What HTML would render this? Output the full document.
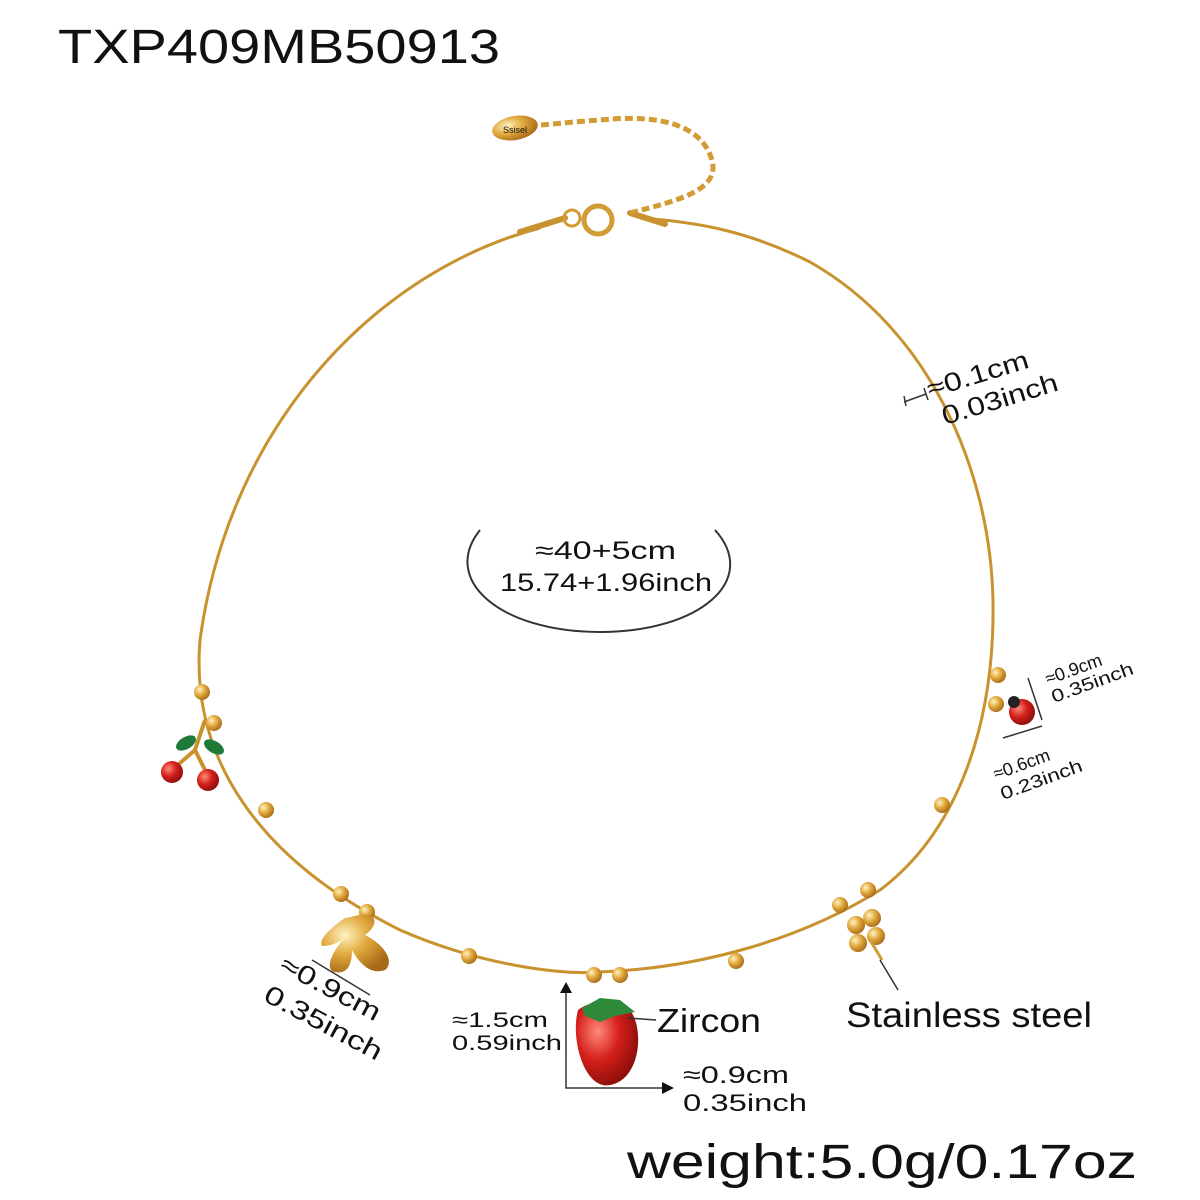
<!DOCTYPE html>
<html><head><meta charset="utf-8"><style>
html,body{margin:0;padding:0;background:#fff;}
svg{display:block}
text{font-family:"Liberation Sans",sans-serif;fill:#111}
</style></head><body>
<svg width="1200" height="1200" viewBox="0 0 1200 1200" xmlns="http://www.w3.org/2000/svg">
<defs>
<radialGradient id="g" cx="35%" cy="35%" r="70%"><stop offset="0" stop-color="#fff3c0"/><stop offset="0.5" stop-color="#e0a83c"/><stop offset="1" stop-color="#a86a18"/></radialGradient>
<radialGradient id="r" cx="35%" cy="35%" r="70%"><stop offset="0" stop-color="#ff8a7a"/><stop offset="0.5" stop-color="#d41f1a"/><stop offset="1" stop-color="#8a0e0a"/></radialGradient>
</defs>
<text x="58" y="63" font-size="48" textLength="442" lengthAdjust="spacingAndGlyphs">TXP409MB50913</text>
<!-- chain -->
<path d="M540 228 C 380 270, 230 420, 200 640 C 190 760, 260 860, 400 930 C 480 965, 560 975, 600 972 C 700 968, 800 940, 880 890 C 960 830, 995 720, 993 600 C 990 470, 930 330, 810 262 C 750 232, 700 222, 640 218" fill="none" stroke="#c8922e" stroke-width="3"/>
<!-- clasp and extender -->
<path d="M520 232 L565 218" stroke="#c8922e" stroke-width="6" stroke-linecap="round"/>
<path d="M630 213 L665 224" stroke="#c8922e" stroke-width="6" stroke-linecap="round"/>
<circle cx="598" cy="220" r="14" fill="none" stroke="#d39b34" stroke-width="5"/>
<circle cx="572" cy="218" r="8" fill="none" stroke="#d39b34" stroke-width="3"/>
<path d="M630 213 C 680 200, 720 190, 712 160 C 700 120, 650 115, 600 120 C 570 122, 545 125, 540 125" fill="none" stroke="#d39b34" stroke-width="5" stroke-dasharray="8 4"/>
<ellipse cx="515" cy="128" rx="23" ry="12" fill="url(#g)" transform="rotate(-10 515 128)"/>
<text x="503" y="133" font-size="9" fill="#7a5010">Ssisel</text>
<!-- beads -->
<g fill="url(#g)">
<circle cx="202" cy="692" r="8"/><circle cx="214" cy="723" r="8"/><circle cx="266" cy="810" r="8"/>
<circle cx="341" cy="894" r="8"/><circle cx="367" cy="912" r="8"/><circle cx="469" cy="956" r="8"/>
<circle cx="594" cy="975" r="8"/><circle cx="620" cy="975" r="8"/><circle cx="736" cy="961" r="8"/>
<circle cx="840" cy="905" r="8"/><circle cx="868" cy="890" r="8"/><circle cx="942" cy="805" r="8"/>
<circle cx="998" cy="675" r="8"/><circle cx="996" cy="704" r="8"/>
</g>
<!-- cherry -->
<path d="M205 720 L195 750 L172 770 M195 750 L208 776" stroke="#c8922e" stroke-width="4" fill="none"/>
<ellipse cx="186" cy="743" rx="11" ry="6" fill="#1f7a3a" transform="rotate(-30 186 743)"/>
<ellipse cx="214" cy="747" rx="11" ry="6" fill="#1f7a3a" transform="rotate(30 214 747)"/>
<circle cx="172" cy="772" r="11" fill="url(#r)"/><circle cx="208" cy="780" r="11" fill="url(#r)"/>
<!-- butterfly -->
<path d="M345 918 C 330 928, 318 940, 322 946 C 332 946, 340 942, 344 938 C 330 955, 325 970, 335 972 C 350 975, 352 960, 352 950 C 360 965, 372 975, 385 970 C 395 962, 385 945, 365 935 C 372 930, 378 922, 372 916 C 362 912, 350 918, 345 918Z" fill="url(#g)"/>
<!-- strawberry -->
<path d="M578 1010 C 570 1040, 585 1090, 610 1085 C 640 1080, 645 1030, 630 1010 C 615 1000, 590 1000, 578 1010Z" fill="url(#r)"/>
<path d="M582 1008 L600 998 L620 1000 L635 1012 L615 1016 L600 1022 L585 1016Z" fill="#2e8a3a"/>
<!-- clover -->
<circle cx="856" cy="925" r="9" fill="url(#g)"/><circle cx="872" cy="918" r="9" fill="url(#g)"/>
<circle cx="858" cy="943" r="9" fill="url(#g)"/><circle cx="876" cy="936" r="9" fill="url(#g)"/>
<path d="M870 940 L882 960" stroke="#d39b34" stroke-width="3"/>
<!-- ladybug -->
<circle cx="1022" cy="712" r="13" fill="url(#r)"/><circle cx="1014" cy="702" r="6" fill="#222"/>
<!-- center ellipse -->
<path d="M480 530 C 440 580, 500 632, 600 632 C 700 632, 760 580, 715 530" fill="none" stroke="#333" stroke-width="2"/>
<text x="535" y="559" font-size="25" textLength="141" lengthAdjust="spacingAndGlyphs">≈40+5cm</text>
<text x="500" y="591" font-size="25" textLength="212" lengthAdjust="spacingAndGlyphs">15.74+1.96inch</text>
<!-- top right -->
<path d="M904 402 L926 394 M904 396 L906 406 M924 388 L928 400" stroke="#333" stroke-width="1.5"/>
<text font-size="26" transform="translate(930 398) rotate(-17)" textLength="105" lengthAdjust="spacingAndGlyphs">≈0.1cm</text>
<text font-size="26" transform="translate(945 425) rotate(-17)" textLength="120" lengthAdjust="spacingAndGlyphs">0.03inch</text>
<!-- ladybug dims -->
<path d="M1028 678 L1042 720 M1003 738 L1042 726" stroke="#333" stroke-width="1.5"/>
<text font-size="18" transform="translate(1048 685) rotate(-20)">≈0.9cm</text>
<text font-size="18" transform="translate(1054 703) rotate(-20)" textLength="86" lengthAdjust="spacingAndGlyphs">0.35inch</text>
<text font-size="18" transform="translate(996 780) rotate(-20)">≈0.6cm</text>
<text font-size="18" transform="translate(1003 800) rotate(-20)" textLength="86" lengthAdjust="spacingAndGlyphs">0.23inch</text>
<!-- butterfly dims -->
<path d="M312 960 L370 995" stroke="#333" stroke-width="1.5"/>
<text font-size="26" transform="translate(278 970) rotate(28)" textLength="110" lengthAdjust="spacingAndGlyphs">≈0.9cm</text>
<text font-size="26" transform="translate(262 1000) rotate(28)" textLength="130" lengthAdjust="spacingAndGlyphs">0.35inch</text>
<!-- strawberry dims -->
<path d="M566 985 L566 1088 L670 1088" fill="none" stroke="#333" stroke-width="1.5"/>
<path d="M560 993 L566 982 L572 993Z M662 1082 L674 1088 L662 1094Z" fill="#111"/>
<text x="452" y="1027" font-size="21" textLength="96" lengthAdjust="spacingAndGlyphs">≈1.5cm</text>
<text x="452" y="1050" font-size="21" textLength="110" lengthAdjust="spacingAndGlyphs">0.59inch</text>
<text x="683" y="1083" font-size="24" textLength="106" lengthAdjust="spacingAndGlyphs">≈0.9cm</text>
<text x="683" y="1111" font-size="24" textLength="124" lengthAdjust="spacingAndGlyphs">0.35inch</text>
<path d="M628 1018 L656 1020" stroke="#333" stroke-width="1.5"/>
<text x="657" y="1032" font-size="33" textLength="104" lengthAdjust="spacingAndGlyphs">Zircon</text>
<path d="M880 960 L898 990" stroke="#333" stroke-width="1.5"/>
<text x="846" y="1027" font-size="35" textLength="246" lengthAdjust="spacingAndGlyphs">Stainless steel</text>
<text x="627" y="1178" font-size="48" textLength="510" lengthAdjust="spacingAndGlyphs">weight:5.0g/0.17oz</text>
</svg>
</body></html>
